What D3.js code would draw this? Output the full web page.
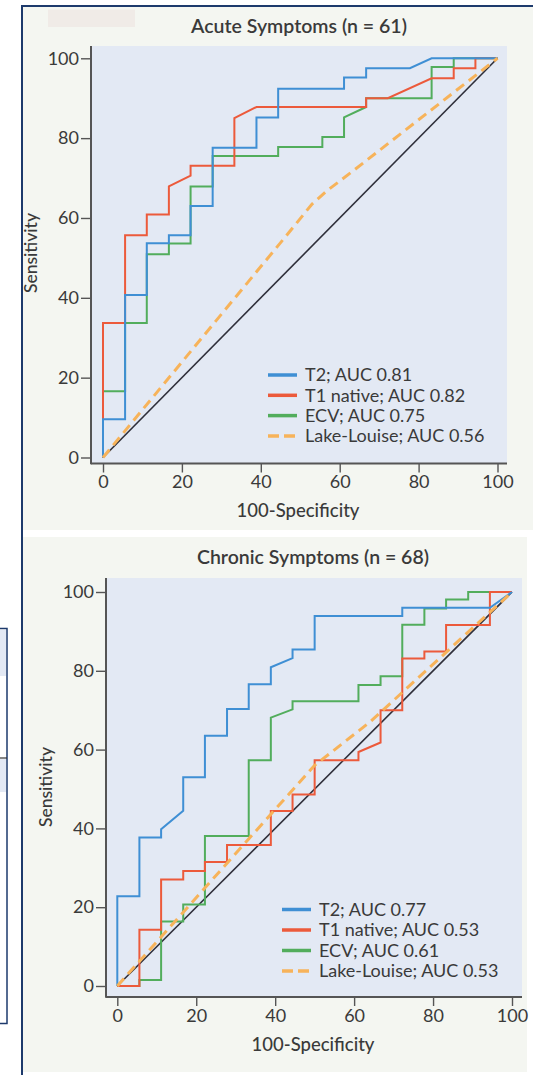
<!DOCTYPE html>
<html>
<head>
<meta charset="utf-8">
<script src="https://cdn.jsdelivr.net/npm/d3@7"></script>
<style>
  html, body { margin: 0; padding: 0; background: #ffffff; }
  svg { display: block; }
  text { font-family: Lato, "Noto Sans", sans-serif; }
</style>
</head>
<body>
<svg id="chart" width="533" height="1075"></svg>
<script>
// ---------- DATA ----------
const xTicks = [0, 20, 40, 60, 80, 100];
const yTicks = [0, 20, 40, 60, 80, 100];
const seriesNames = ["T2", "T1 native", "ECV", "Lake-Louise"];
const panelTitles = ["Acute Symptoms (n = 61)", "Chronic Symptoms (n = 68)"];
const acuteAUC = ["0.81", "0.82", "0.75", "0.56"];
const chronicAUC = ["0.77", "0.53", "0.61", "0.53"];
const xLabel = "100-Specificity";
const yLabel = "Sensitivity";

// ROC vertices: [100-specificity, sensitivity]
const acuteT2 = [[0,0],[0,9.6],[5.6,9.6],[5.6,40.7],[11.1,40.7],[11.1,53.7],[16.7,53.7],[16.7,55.7],[22.2,55.7],[22.2,63],[27.8,63],[27.8,77.6],[38.9,77.6],[38.9,85.2],[44.4,85.2],[44.4,92.4],[61.1,92.4],[61.1,95.2],[66.7,95.2],[66.7,97.5],[77.8,97.5],[83.3,100],[100,100]];
const acuteT1 = [[0,0],[0,33.7],[5.6,33.7],[5.6,55.7],[11.1,55.7],[11.1,60.9],[16.7,60.9],[16.7,67.9],[22.2,70.6],[22.2,73.1],[33.3,73.1],[33.3,85],[38.9,87.8],[66.7,87.8],[66.7,90],[72.2,90],[83.3,95],[88.9,95],[88.9,97.5],[94.4,97.5],[94.4,100],[100,100]];
const acuteECV = [[0,0],[0,16.6],[5.6,16.6],[5.6,33.7],[11.1,33.7],[11.1,50.9],[16.7,50.9],[16.7,53.6],[22.2,53.6],[22.2,67.9],[27.8,67.9],[27.8,75.5],[44.4,75.5],[44.4,77.8],[55.6,77.8],[55.6,80.3],[61.1,80.3],[61.1,85.2],[66.7,87.8],[66.7,90],[83.3,90],[83.3,97.8],[88.9,97.8],[88.9,100],[100,100]];
const acuteLL = [[0,0],[46,55],[53,63.5],[57,67],[63,71.5],[100,100]];

const chronicT2 = [[0,0],[0,22.8],[5.6,22.8],[5.6,37.7],[11.1,37.7],[11.1,39.8],[16.7,44.5],[16.7,53],[22.2,53],[22.2,63.5],[27.8,63.5],[27.8,70.3],[33.3,70.3],[33.3,76.6],[38.9,76.6],[38.9,80.9],[44.4,83.2],[44.4,85.4],[50,85.4],[50,93.9],[72.2,93.9],[72.2,96],[94.4,96],[100,100]];
const chronicT1 = [[0,0],[5.6,0],[5.6,14.3],[11.1,14.3],[11.1,27],[16.7,27],[16.7,29.2],[22.2,29.2],[22.2,31.5],[27.8,31.5],[27.8,35.8],[38.9,35.8],[38.9,44.4],[44.4,44.4],[44.4,48.6],[50,48.6],[50,57.3],[61.1,57.3],[61.1,59.4],[66.7,61.8],[66.7,70],[72.2,70],[72.2,83.1],[77.8,83.1],[77.8,84.9],[83.3,84.9],[83.3,91.6],[94.4,91.6],[94.4,100],[100,100]];
const chronicECV = [[0,0],[5.6,0],[5.6,1.5],[11.1,1.5],[11.1,16.4],[16.7,16.4],[16.7,20.7],[22.2,20.7],[22.2,38.1],[33.3,38.1],[33.3,57.3],[38.9,57.3],[38.9,68.1],[44.4,70.2],[44.4,72.3],[61.1,72.3],[61.1,76.4],[66.7,76.4],[66.7,78.6],[72.2,78.6],[72.2,91.7],[77.8,91.7],[77.8,95.8],[83.3,95.8],[83.3,98.1],[88.9,98.1],[88.9,100],[100,100]];
const chronicLL = [[0,0],[33,37],[50,56],[64,67],[100,100]];

const referenceLine = [[0,0],[100,100]];

// ---------- STYLE ----------
const colors = ["#3f8fd4", "#ec5a3b", "#52ad5c", "#f7b35a"];
const navy = "#1d3a6c";
const panelBg = "#f4f6f1";
const plotBg = "#e3e9f4";
const axisColor = "#555555";
const textColor = "#3a3a3a";

const svg = d3.select("#chart");

// outer frame of the figure
svg.append("rect").attr("x", 23).attr("y", 7).attr("width", 510).attr("height", 523).attr("fill", panelBg);
svg.append("rect").attr("x", 23).attr("y", 537).attr("width", 504).attr("height", 535).attr("fill", panelBg);
svg.append("line").attr("x1", 22).attr("x2", 22).attr("y1", 6).attr("y2", 1075).attr("stroke", navy).attr("stroke-width", 2);
svg.append("line").attr("x1", 21).attr("x2", 533).attr("y1", 6).attr("y2", 6).attr("stroke", navy).attr("stroke-width", 2);
// masked label patch
svg.append("rect").attr("x", 48).attr("y", 9.5).attr("width", 87).attr("height", 17.5).attr("fill", "#f0ebe7");

// fragment of neighbouring panel on the left
svg.append("rect").attr("x", -2).attr("y", 630).attr("width", 8).attr("height", 46).attr("fill", plotBg);
svg.append("rect").attr("x", -2).attr("y", 759).attr("width", 8).attr("height", 33).attr("fill", plotBg);
svg.append("rect").attr("x", -2).attr("y", 628.5).attr("width", 9).attr("height", 395)
  .attr("fill", "none").attr("stroke", navy).attr("stroke-width", 1.5);
svg.append("line").attr("x1", 0).attr("x2", 7).attr("y1", 758).attr("y2", 758).attr("stroke", "#333").attr("stroke-width", 1.2);

function drawPanel(cfg) {
  const g = svg.append("g");
  const x = d3.scaleLinear().domain([0, 100]).range([cfg.x0, cfg.x1]);
  const y = d3.scaleLinear().domain([0, 100]).range([cfg.y0, cfg.y1]);

  // plot background
  g.append("rect").attr("x", cfg.left).attr("y", cfg.top)
    .attr("width", cfg.right - cfg.left).attr("height", cfg.bottom - cfg.top).attr("fill", plotBg);

  // title
  g.append("text").attr("x", cfg.titleX).attr("y", cfg.titleY).attr("text-anchor", "middle")
    .attr("font-size", 19.5).attr("font-weight", 600).attr("fill", textColor).text(cfg.title);

  // axes
  const xAxis = d3.axisBottom(x).tickValues(xTicks).tickSize(9).tickSizeOuter(0).tickPadding(3);
  const yAxis = d3.axisLeft(y).tickValues(yTicks).tickSize(10).tickSizeOuter(0).tickPadding(2);
  const gx = g.append("g").attr("transform", `translate(0,${cfg.bottom})`).call(xAxis);
  const gy = g.append("g").attr("transform", `translate(${cfg.left},0)`).call(yAxis);
  [gx, gy].forEach(a => {
    a.select(".domain").remove();
    a.selectAll(".tick line").attr("stroke", axisColor).attr("stroke-width", 1.4);
    a.selectAll(".tick text").attr("fill", textColor).attr("font-size", 18)
      .attr("font-family", "Lato, 'Noto Sans', sans-serif");
  });
  g.append("line").attr("x1", cfg.left).attr("x2", cfg.left).attr("y1", cfg.top).attr("y2", cfg.bottom + 0.7)
    .attr("stroke", axisColor).attr("stroke-width", 2);
  g.append("line").attr("x1", cfg.left).attr("x2", cfg.right).attr("y1", cfg.bottom).attr("y2", cfg.bottom)
    .attr("stroke", axisColor).attr("stroke-width", 2);

  // axis labels
  g.append("text").attr("x", cfg.xLabelX).attr("y", cfg.xLabelY).attr("text-anchor", "middle")
    .attr("font-size", 18.5).attr("font-weight", 500).attr("fill", textColor).text(xLabel);
  g.append("text").attr("transform", `translate(${cfg.yLabelX},${cfg.yLabelY}) rotate(-90)`)
    .attr("text-anchor", "middle").attr("font-size", 17.5).attr("font-weight", 500)
    .attr("fill", textColor).text(yLabel);

  const line = d3.line().x(d => x(d[0])).y(d => y(d[1]));

  // reference diagonal
  g.append("path").attr("d", line(referenceLine)).attr("fill", "none")
    .attr("stroke", "#2f2f3a").attr("stroke-width", 1.6);

  // curves: ECV, T1, T2 (solid), then Lake-Louise dashed
  const order = [2, 1, 0];
  order.forEach(i => {
    g.append("path").attr("d", line(cfg.series[i])).attr("fill", "none")
      .attr("stroke", colors[i]).attr("stroke-width", 2).attr("stroke-linejoin", "miter");
  });
  g.append("path").attr("d", line(cfg.series[3])).attr("fill", "none")
    .attr("stroke", colors[3]).attr("stroke-width", 3).attr("stroke-dasharray", "10,6");

  // legend
  seriesNames.forEach((name, i) => {
    const cy = cfg.legY + i * cfg.legStep;
    const l = g.append("line").attr("x1", cfg.legX).attr("x2", cfg.legX + 29)
      .attr("y1", cy).attr("y2", cy).attr("stroke", colors[i]).attr("stroke-width", 3.5);
    if (i === 3) l.attr("stroke-dasharray", "11,5");
    g.append("text").attr("x", cfg.legX + 37).attr("y", cy + 6.3).attr("font-size", 18)
      .attr("fill", textColor).text(`${name}; AUC ${cfg.auc[i]}`);
  });
}

drawPanel({
  title: panelTitles[0], titleX: 299, titleY: 32.5,
  left: 91, right: 507, top: 46, bottom: 463.5,
  x0: 103, x1: 497.5, y0: 457.5, y1: 58.3,
  xLabelX: 298, xLabelY: 517, yLabelX: 37, yLabelY: 253,
  legX: 268, legY: 375, legStep: 20.3,
  series: [acuteT2, acuteT1, acuteECV, acuteLL], auc: acuteAUC
});

drawPanel({
  title: panelTitles[1], titleX: 313, titleY: 564,
  left: 106, right: 522, top: 578, bottom: 997,
  x0: 117.3, x1: 512, y0: 986, y1: 592,
  xLabelX: 313, xLabelY: 1051, yLabelX: 52, yLabelY: 787,
  legX: 282, legY: 909.5, legStep: 20.5,
  series: [chronicT2, chronicT1, chronicECV, chronicLL], auc: chronicAUC
});
</script>
</body>
</html>
